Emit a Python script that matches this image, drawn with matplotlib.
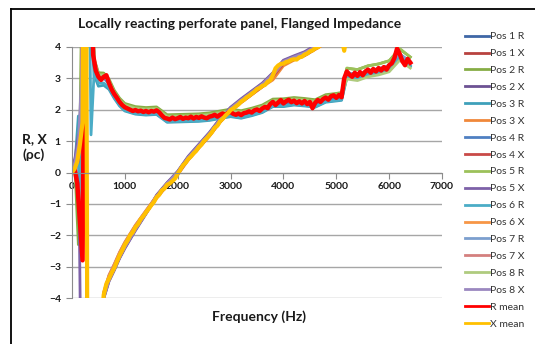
import matplotlib

matplotlib.use("Agg")
import matplotlib.pyplot as plt
import numpy as np
from matplotlib.lines import Line2D

plt.rcParams["font.family"] = ["Lato", "DejaVu Sans"]

# Mean impedance, sampled every 50 Hz from 0 to 6400 Hz
MEAN_FREQ = np.arange(0, 6401, 50)

R_MEAN = [
    0.05, 0.10, -0.35, -1.60, -2.80, 9.00, 13.00, 7.50, 3.75, 3.25,
    3.05, 2.95, 3.05, 3.10, 2.85, 2.65, 2.50, 2.38, 2.25, 2.15,
    2.08, 2.04, 2.00, 1.96, 1.99, 1.95, 1.97, 1.93, 1.96, 1.92,
    1.96, 1.94, 1.98, 1.92, 1.82, 1.74, 1.72, 1.69, 1.75, 1.70,
    1.73, 1.77, 1.71, 1.75, 1.73, 1.78, 1.72, 1.77, 1.74, 1.79,
    1.75, 1.73, 1.78, 1.80, 1.84, 1.78, 1.84, 1.88, 1.84, 1.90,
    1.93, 1.87, 1.84, 1.88, 1.83, 1.89, 1.91, 1.95, 1.91, 1.98,
    2.01, 1.96, 2.04, 2.09, 2.05, 2.18, 2.25, 2.15, 2.23, 2.31,
    2.20, 2.27, 2.32, 2.24, 2.29, 2.21, 2.27, 2.20, 2.28, 2.18,
    2.25, 2.05, 2.22, 2.31, 2.25, 2.34, 2.39, 2.32, 2.43, 2.46,
    2.38, 2.47, 2.40, 3.00, 3.22, 3.12, 3.05, 3.18, 3.08, 3.20,
    3.10, 3.22, 3.28, 3.18, 3.30, 3.22, 3.33, 3.25, 3.36, 3.28,
    3.42, 3.48, 3.65, 3.95, 3.78, 3.55, 3.42, 3.62, 3.50,
]

X_MEAN = [
    0.00, 0.12, 0.35, 0.90, 1.60, 18.00, -12.00, -14.00, -12.00, -9.00,
    -6.80, -5.00, -3.90, -3.55, -3.38, -3.20, -3.04, -2.84, -2.64, -2.48,
    -2.30, -2.17, -2.00, -1.90, -1.74, -1.64, -1.49, -1.39, -1.27, -1.16,
    -1.04, -0.94, -0.79, -0.71, -0.57, -0.51, -0.39, -0.35, -0.27, -0.19,
    -0.04, 0.09, 0.23, 0.31, 0.43, 0.51, 0.61, 0.69, 0.81, 0.89,
    1.01, 1.09, 1.19, 1.29, 1.43, 1.49, 1.63, 1.71, 1.81, 1.89,
    1.99, 2.04, 2.11, 2.17, 2.26, 2.31, 2.39, 2.44, 2.51, 2.57,
    2.66, 2.69, 2.76, 2.79, 2.89, 2.94, 3.10, 3.32, 3.41, 3.46,
    3.47, 3.52, 3.54, 3.59, 3.61, 3.60, 3.67, 3.69, 3.76, 3.79,
    3.86, 3.89, 3.96, 3.99, 4.06, 4.09, 4.16, 4.19, 4.26, 4.29,
    4.36, 4.39, 4.30, 3.88, 4.45, 4.48, 4.50, 4.53, 4.55, 4.58,
    4.60, 4.63, 4.65, 4.68, 4.70, 4.73, 4.75, 4.78, 4.80, 4.83,
    4.85, 4.88, 4.90, 4.93, 4.95, 4.98, 5.00, 5.03, 5.05,
]

# Individual microphone positions, on a coarser frequency grid
POS_FREQ = [
    0, 60, 120, 180, 240, 300, 360, 420, 500, 600, 700, 800, 900, 1000,
    1200, 1400, 1600, 1800, 2000, 2200, 2400, 2600, 2800, 3000, 3200, 3400,
    3600, 3800, 4000, 4200, 4400, 4600, 4800, 5000, 5100, 5200, 5400, 5600,
    5800, 6000, 6200, 6400,
]

POS1_R = [0.05, 0.10, -0.60, -2.20, 7.00, 12.00, 6.00, 3.52,
          3.07, 3.08, 2.86, 2.52, 2.27, 2.10, 2.00, 1.97, 1.99, 1.74, 1.75, 1.76, 1.77, 1.80, 1.86, 1.92, 1.87,
          1.95, 2.05, 2.24, 2.24, 2.29, 2.26, 2.22, 2.38, 2.42, 2.44, 3.17, 3.12, 3.24, 3.30, 3.40, 3.77, 3.52]
POS1_X = [0.00, 0.15, 0.50, 1.40, 15.00, -11.00, -13.50, -10.50,
          -6.70, -3.87, -3.32, -2.97, -2.59, -2.27, -1.72, -1.25, -0.77, -0.37, -0.02, 0.45, 0.83, 1.21, 1.65, 2.01, 2.28,
          2.53, 2.78, 3.11, 3.51, 3.65, 3.78, 3.98, 4.18, 4.38, 4.38, 4.48, 4.58, 4.68, 4.78, 4.88, 4.98, 5.08]
POS2_R = [0.05, 0.00, -2.30, 5.00, 10.00, 11.00, 6.50, 3.62,
          3.18, 3.17, 2.98, 2.62, 2.37, 2.20, 2.10, 2.07, 2.09, 1.84, 1.85, 1.86, 1.87, 1.90, 1.96, 2.02, 1.97,
          2.05, 2.15, 2.34, 2.35, 2.39, 2.36, 2.32, 2.48, 2.52, 2.55, 3.32, 3.28, 3.40, 3.46, 3.56, 3.93, 3.68]
POS2_X = [0.05, 0.30, 0.80, 2.50, 14.00, -12.00, -14.50, -11.00,
          -7.00, -4.00, -3.45, -3.10, -2.72, -2.40, -1.83, -1.30, -0.72, -0.32, 0.03, 0.50, 0.88, 1.26, 1.70, 2.06, 2.33,
          2.58, 2.83, 3.16, 3.56, 3.70, 3.83, 4.03, 4.23, 4.43, 4.43, 4.53, 4.63, 4.73, 4.83, 4.93, 5.03, 5.13]
POS3_R = [0.15, 0.35, 1.80, 0.50, 6.00, 9.00, 4.50, 3.10,
          2.75, 2.78, 2.65, 2.36, 2.12, 1.96, 1.86, 1.83, 1.85, 1.60, 1.61, 1.62, 1.63, 1.66, 1.72, 1.78, 1.73,
          1.81, 1.91, 2.10, 2.10, 2.15, 2.12, 2.08, 2.24, 2.28, 2.30, 3.03, 2.98, 3.10, 3.16, 3.26, 3.63, 3.38]
POS3_X = [0.00, 0.10, 0.45, 1.20, 16.00, -11.50, -14.00, -10.80,
          -6.60, -3.82, -3.27, -2.92, -2.54, -2.22, -1.68, -1.22, -0.76, -0.36, -0.03, 0.43, 0.79, 1.17, 1.60, 1.96, 2.23,
          2.48, 2.73, 2.95, 3.40, 3.58, 3.72, 3.92, 4.12, 4.32, 4.32, 4.42, 4.52, 4.62, 4.72, 4.82, 4.92, 5.02]
POS4_R = [0.05, 0.10, -0.40, -1.50, 8.00, 12.00, 5.50, 3.45,
          3.02, 3.02, 2.82, 2.47, 2.22, 2.05, 1.95, 1.92, 1.94, 1.69, 1.70, 1.71, 1.72, 1.75, 1.81, 1.87, 1.82,
          1.90, 2.00, 2.19, 2.19, 2.24, 2.21, 2.17, 2.33, 2.37, 2.39, 3.12, 3.07, 3.19, 3.25, 3.35, 3.72, 3.47]
POS4_X = [0.00, 0.12, 0.50, 1.50, 15.50, -12.00, -14.00, -11.20,
          -6.90, -3.92, -3.37, -3.02, -2.64, -2.32, -1.77, -1.30, -0.82, -0.42, -0.07, 0.40, 0.78, 1.16, 1.60, 1.96, 2.23,
          2.48, 2.73, 3.06, 3.46, 3.60, 3.73, 3.93, 4.13, 4.33, 4.33, 4.43, 4.53, 4.63, 4.73, 4.83, 4.93, 5.03]
POS5_R = [0.05, 0.10, -0.50, -1.80, 7.50, 11.50, 6.00, 3.58,
          3.13, 3.13, 2.93, 2.58, 2.33, 2.16, 2.06, 2.03, 2.05, 1.80, 1.81, 1.82, 1.83, 1.86, 1.92, 1.98, 1.93,
          2.01, 2.11, 2.30, 2.30, 2.35, 2.32, 2.28, 2.44, 2.50, 2.52, 3.33, 3.28, 3.40, 3.46, 3.56, 3.95, 3.68]
POS5_X = [0.10, 0.50, 1.20, -8.00, -15.00, -14.00, -13.00, -10.50,
          -7.20, -4.02, -3.47, -3.12, -2.74, -2.42, -1.85, -1.32, -0.74, -0.34, 0.04, 0.52, 0.90, 1.28, 1.72, 2.08, 2.35,
          2.60, 2.85, 3.18, 3.58, 3.72, 3.85, 4.05, 4.25, 4.45, 4.45, 4.55, 4.65, 4.75, 4.85, 4.95, 5.05, 5.15]
POS6_R = [0.10, 0.20, 0.30, -0.50, 6.50, 10.00, 1.20, 3.25,
          2.85, 2.85, 2.72, 2.40, 2.15, 1.98, 1.88, 1.85, 1.87, 1.62, 1.63, 1.64, 1.65, 1.68, 1.74, 1.80, 1.75,
          1.83, 1.93, 2.12, 2.12, 2.17, 2.14, 2.10, 2.26, 2.30, 2.32, 3.05, 3.00, 3.12, 3.18, 3.28, 3.65, 3.40]
POS6_X = [0.00, 0.15, 0.55, 1.35, 16.50, -12.50, -14.20, -11.00,
          -6.70, -3.86, -3.31, -2.96, -2.58, -2.26, -1.71, -1.24, -0.76, -0.36, -0.01, 0.46, 0.84, 1.22, 1.66, 2.02, 2.29,
          2.54, 2.79, 3.12, 3.52, 3.66, 3.79, 3.99, 4.19, 4.39, 4.39, 4.49, 4.59, 4.69, 4.79, 4.89, 4.99, 5.09]
POS7_R = [0.05, 0.10, -0.50, -2.00, 7.00, 12.00, 6.00, 3.52,
          3.08, 3.08, 2.88, 2.53, 2.28, 2.11, 2.01, 1.98, 2.00, 1.75, 1.76, 1.77, 1.78, 1.81, 1.87, 1.93, 1.88,
          1.96, 2.06, 2.25, 2.25, 2.30, 2.27, 2.23, 2.39, 2.43, 2.45, 3.18, 3.13, 3.25, 3.31, 3.41, 3.78, 3.53]
POS7_X = [0.00, 0.15, 0.50, 1.30, 15.00, -12.00, -14.00, -11.00,
          -6.60, -3.83, -3.28, -2.93, -2.55, -2.23, -1.68, -1.21, -0.75, -0.37, -0.03, 0.44, 0.82, 1.20, 1.64, 2.00, 2.27,
          2.52, 2.77, 3.10, 3.50, 3.64, 3.77, 3.97, 4.17, 4.37, 4.37, 4.47, 4.57, 4.67, 4.77, 4.87, 4.97, 5.07]
POS8_R = [0.05, 0.05, -0.60, -2.40, 7.50, 12.50, 6.50, 3.55,
          3.10, 3.10, 2.90, 2.55, 2.30, 2.13, 2.03, 2.00, 2.02, 1.77, 1.78, 1.79, 1.80, 1.83, 1.89, 1.95, 1.90,
          1.98, 2.08, 2.27, 2.27, 2.32, 2.29, 2.25, 2.41, 2.45, 2.47, 2.98, 2.93, 3.05, 3.11, 3.21, 3.58, 3.33]
POS8_X = [0.05, 0.35, 0.90, 3.00, 13.00, -13.00, -14.50, -11.50,
          -7.10, -3.98, -3.43, -3.08, -2.70, -2.38, -1.81, -1.30, -0.76, -0.34, 0.01, 0.48, 0.86, 1.24, 1.68, 2.04, 2.31,
          2.56, 2.81, 3.14, 3.54, 3.68, 3.81, 4.01, 4.21, 4.41, 4.41, 4.51, 4.61, 4.71, 4.81, 4.91, 5.01, 5.11]

POS_SERIES = [
    ("Pos 1 R", POS1_R, "#3f67a6"), ("Pos 1 X", POS1_X, "#b8423f"),
    ("Pos 2 R", POS2_R, "#86ad45"), ("Pos 2 X", POS2_X, "#6c5293"),
    ("Pos 3 R", POS3_R, "#3ea0ba"), ("Pos 3 X", POS3_X, "#f0883a"),
    ("Pos 4 R", POS4_R, "#4f80c2"), ("Pos 4 X", POS4_X, "#c94a47"),
    ("Pos 5 R", POS5_R, "#9cc15a"), ("Pos 5 X", POS5_X, "#7d61a8"),
    ("Pos 6 R", POS6_R, "#4bacc6"), ("Pos 6 X", POS6_X, "#f79646"),
    ("Pos 7 R", POS7_R, "#7c9fce"), ("Pos 7 X", POS7_X, "#d4807e"),
    ("Pos 8 R", POS8_R, "#afcb7e"), ("Pos 8 X", POS8_X, "#9b88c0"),
]

X_TICKS = [0, 1000, 2000, 3000, 4000, 5000, 6000, 7000]
Y_TICKS = [-4, -3, -2, -1, 0, 1, 2, 3, 4]

W, H = 535, 344
fig = plt.figure(figsize=(W / 100, H / 100), dpi=100)
ax = fig.add_axes([72 / W, 1 - 298 / H, 370 / W, 251 / H])

for label, values, color in POS_SERIES:
    ax.plot(POS_FREQ, values, color=color, lw=2.0, label=label)
ax.plot(MEAN_FREQ, R_MEAN, color="#ff0000", lw=3.2, label="R mean")
ax.plot(MEAN_FREQ, X_MEAN, color="#ffc000", lw=3.0, label="X mean")

# legend keys all drawn with the same stroke width
keys = [Line2D([], [], color=line.get_color(), lw=2.0, label=line.get_label())
        for line in ax.get_lines()]

ax.set_xlim(0, 7000)
ax.set_ylim(-4, 4)
ax.set_xticks(X_TICKS)
ax.set_yticks(Y_TICKS)
ax.yaxis.grid(True, color="#a6a6a6", lw=1.0)
ax.set_axisbelow(True)

grey = "#8c8c8c"
for side in ("top", "right"):
    ax.spines[side].set_visible(False)
ax.spines["bottom"].set_position(("data", 0))
ax.spines["bottom"].set_color(grey)
ax.spines["left"].set_color(grey)
ax.tick_params(axis="both", direction="out", length=4, width=0.8, color=grey,
               labelsize=7.5, labelcolor="#1a1a1a")
ax.tick_params(axis="x", pad=3)
ax.tick_params(axis="y", pad=4)
for lbl in ax.get_xticklabels() + ax.get_yticklabels():
    lbl.set_fontweight("bold")

fig.text(240 / W, 1 - 24 / H, "Locally reacting perforate panel, Flanged Impedance",
         ha="center", va="center", fontsize=10, fontweight="bold", color="#1a1a1a")
fig.text(34 / W, 1 - 147 / H, "R, X\n(\u03c1c)", ha="center", va="center",
         fontsize=10, fontweight="bold", color="#1a1a1a", linespacing=1.3)
fig.text(259 / W, 1 - 317 / H, "Frequency (Hz)", ha="center", va="center",
         fontsize=10, fontweight="bold", color="#1a1a1a")

fig.legend(handles=keys, loc="upper left", bbox_to_anchor=(465 / W, 1 - 32 / H),
           frameon=False, fontsize=7.5, borderpad=0, borderaxespad=0,
           handlelength=2.3, handletextpad=0.1, labelspacing=0.73, labelcolor="#333333")

# chart frame
fig.add_artist(Line2D([11 / W, 11 / W], [0, 1 - 9 / H], transform=fig.transFigure,
                      color="black", lw=1.3))
fig.add_artist(Line2D([11 / W, 1], [1 - 9 / H, 1 - 9 / H], transform=fig.transFigure,
                      color="black", lw=1.3))

fig.savefig("out.png", dpi=100)
